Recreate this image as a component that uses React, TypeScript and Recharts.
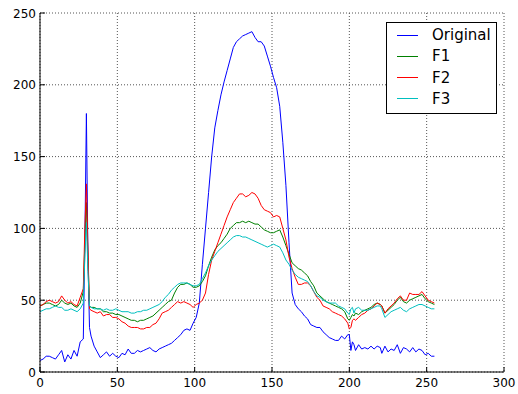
import { CartesianGrid, Line, LineChart, XAxis, YAxis } from "recharts";

// sample positions along x (denser around the spike at ~30 and the dip at ~200)
const X_VALUES = [
  0, 2, 4, 6, 8, 10, 12, 14, 16, 18, 20, 22, 24, 26, 28, 29, 30, 31, 32, 33, 35, 37, 39, 41, 43, 45, 47,
  49, 51, 53, 55, 57, 59, 61, 63, 65, 67, 69, 71, 73, 75, 77, 79, 81, 83, 85, 87, 89, 91, 93, 95, 97,
  99, 101, 103, 105, 107, 109, 111, 113, 115, 117, 119, 121, 123, 125, 127, 129, 131, 133, 135, 137,
  139, 141, 143, 145, 147, 149, 151, 153, 155, 157, 159, 161, 163, 165, 167, 169, 171, 173, 175, 177,
  179, 181, 183, 185, 187, 189, 191, 193, 195, 197, 199, 200, 201, 202, 203, 204, 206, 208, 210, 212,
  214, 216, 218, 220, 221, 223, 225, 227, 229, 231, 233, 235, 237, 239, 241, 243, 245, 247, 249, 251,
  253, 255,
];

const ORIGINAL = [
  8, 9, 11, 11, 10, 9, 12, 15, 7, 12, 9, 15, 11, 21, 23, 90, 180, 80, 31, 25, 18, 14, 10, 12, 14, 11, 13,
  11, 10, 13, 12, 16, 13, 13, 15, 14, 15, 16, 17, 15, 14, 16, 17, 18, 19, 20, 22, 24, 26, 29, 30, 29,
  34, 38, 48, 75, 100, 125, 150, 170, 182, 193, 202, 210, 218, 226, 230, 232, 234, 235, 236, 237,
  233, 230, 230, 227, 220, 213, 205, 198, 185, 160, 130, 90, 55, 47, 44, 42, 39, 37, 33, 32,
  31, 31, 28, 26, 24, 23, 22, 22, 25, 23, 26, 26, 15, 21, 19, 15, 19, 16, 17, 16,
  18, 16, 18, 17, 13, 18, 14, 16, 15, 19, 13, 17, 16, 14, 17, 14, 16, 15, 12, 13,
  11, 11,
];

const F1 = [
  46, 47, 48, 48, 47, 46, 47, 50, 48, 47, 48, 46, 45, 48, 56, 90, 118, 80, 46, 45, 45, 44, 44, 42, 42, 41, 41,
  40, 40, 39, 38, 37, 36, 36, 35, 36, 36, 37, 38, 39, 41, 43, 45, 47, 49, 50, 55, 59, 61, 61, 62, 61,
  59, 59, 60, 63, 67, 74, 80, 85, 88, 90, 93, 96, 100, 102, 104, 104, 105, 104, 105, 104,
  103, 103, 101, 99, 98, 97, 97, 98, 99, 94, 88, 82, 76, 74, 72, 71, 69, 67, 63, 60,
  55, 53, 51, 49, 48, 47, 46, 45, 44, 42, 37, 36, 38, 40, 39, 41, 40, 42, 43, 44,
  45, 47, 48, 47, 46, 41, 43, 45, 47, 50, 52, 49, 48, 50, 51, 52, 53, 54, 51, 49,
  48, 47,
];

const F2 = [
  46, 47, 49, 50, 49, 48, 49, 53, 50, 48, 49, 47, 46, 52, 58, 100, 131, 85, 44, 43, 42, 41, 42, 39, 40, 40, 38,
  38, 37, 35, 34, 32, 31, 31, 31, 30, 30, 31, 31, 33, 34, 37, 41, 42, 43, 45, 47, 49, 48, 49, 48, 47,
  45, 47, 48, 50, 55, 68, 78, 84, 90, 96, 102, 108, 113, 118, 121, 124, 124, 122, 123, 125,
  124, 121, 116, 113, 112, 111, 108, 109, 108, 100, 92, 80, 72, 66, 61, 61, 62, 62, 60, 56,
  52, 50, 46, 45, 44, 42, 41, 40, 39, 37, 34, 30, 31, 36, 37, 36, 38, 40, 41, 43,
  44, 46, 48, 47, 46, 41, 44, 46, 48, 51, 53, 50, 50, 55, 54, 54, 54, 56, 53, 50,
  49, 48,
];

const F3 = [
  42, 43, 44, 44, 45, 46, 45, 45, 43, 43, 44, 43, 42, 44, 48, 80, 104, 70, 46, 45, 44, 44, 44, 43, 44, 43, 43,
  44, 43, 42, 42, 42, 41, 41, 42, 42, 43, 43, 44, 45, 46, 47, 49, 52, 54, 57, 59, 61, 62, 62, 62, 61,
  60, 60, 61, 65, 69, 74, 78, 81, 84, 86, 88, 90, 92, 94, 95, 95, 94, 94, 93, 92,
  91, 90, 89, 88, 87, 88, 89, 88, 87, 83, 78, 75, 71, 68, 66, 65, 64, 63, 60, 56,
  53, 52, 50, 49, 48, 48, 48, 46, 45, 44, 41, 40, 44, 45, 41, 44, 45, 43, 43, 43,
  44, 45, 46, 46, 44, 38, 40, 42, 43, 44, 45, 43, 42, 44, 45, 46, 47, 47, 46, 45,
  44, 44,
];

const X_TICKS = [0, 50, 100, 150, 200, 250, 300];
const Y_TICKS = [0, 50, 100, 150, 200, 250];

const SERIES = [
  { key: "original", name: "Original", color: "#0000ff", values: ORIGINAL },
  { key: "f1", name: "F1", color: "#008000", values: F1 },
  { key: "f2", name: "F2", color: "#ff0000", values: F2 },
  { key: "f3", name: "F3", color: "#00bfbf", values: F3 },
];

const data = X_VALUES.map((x, i) => {
  const row: Record<string, number> = { x };
  SERIES.forEach((s) => (row[s.key] = s.values[i]));
  return row;
});

const FONT = "'DejaVu Sans', sans-serif";
const TICK_LEN = 5;
const GAP = 4;

function BottomTick({ x, y, payload }: any) {
  const axisY = y - GAP;
  return (
    <g>
      <line x1={x} x2={x} y1={axisY} y2={axisY - TICK_LEN} stroke="#000" />
      <text x={x} y={y} dy={11} textAnchor="middle" fontSize={12} fontFamily={FONT} fill="#000">
        {payload.value}
      </text>
    </g>
  );
}

function LeftTick({ x, y, payload }: any) {
  const axisX = x + GAP;
  return (
    <g>
      <line x1={axisX} x2={axisX + TICK_LEN} y1={y} y2={y} stroke="#000" />
      <text x={x} y={y} dy={4.5} textAnchor="end" fontSize={12} fontFamily={FONT} fill="#000">
        {payload.value}
      </text>
    </g>
  );
}

function TopTick({ x, y }: any) {
  return <line x1={x} x2={x} y1={y} y2={y + TICK_LEN} stroke="#000" />;
}

function RightTick({ x, y }: any) {
  return <line x1={x} x2={x - TICK_LEN} y1={y} y2={y} stroke="#000" />;
}

export default function App() {
  return (
    <div style={{ position: "absolute", left: 0, top: 0, width: 518, height: 394, background: "#fff" }}>
      <LineChart width={518} height={394} data={data} margin={{ top: 13, right: 14, bottom: 0, left: 0 }}>
        <CartesianGrid stroke="#555" strokeDasharray="1 2" />
        <XAxis
          dataKey="x"
          type="number"
          domain={[0, 300]}
          ticks={X_TICKS}
          height={22}
          tickSize={0}
          tickMargin={GAP}
          tickLine={false}
          axisLine={{ stroke: "#000" }}
          tick={<BottomTick />}
          interval={0}
        />
        <XAxis
          xAxisId="top"
          orientation="top"
          dataKey="x"
          type="number"
          domain={[0, 300]}
          ticks={X_TICKS}
          height={0}
          tickSize={0}
          tickMargin={0}
          tickLine={false}
          axisLine={{ stroke: "#000" }}
          tick={<TopTick />}
          interval={0}
        />
        <YAxis
          type="number"
          domain={[0, 250]}
          ticks={Y_TICKS}
          width={40}
          tickSize={0}
          tickMargin={GAP}
          tickLine={false}
          axisLine={{ stroke: "#000" }}
          tick={<LeftTick />}
          interval={0}
        />
        <YAxis
          yAxisId="right"
          orientation="right"
          type="number"
          domain={[0, 250]}
          ticks={Y_TICKS}
          width={0}
          tickSize={0}
          tickMargin={0}
          tickLine={false}
          axisLine={{ stroke: "#000" }}
          tick={<RightTick />}
          interval={0}
        />
        {/* invisible series so the top/right frame axes have data */}
        <Line
          xAxisId="top"
          yAxisId="right"
          dataKey="original"
          stroke="none"
          dot={false}
          isAnimationActive={false}
        />
        {SERIES.map((s) => (
          <Line
            key={s.key}
            dataKey={s.key}
            name={s.name}
            stroke={s.color}
            strokeWidth={1}
            dot={false}
            type="linear"
            isAnimationActive={false}
          />
        ))}
      </LineChart>

      <div
        style={{
          position: "absolute",
          left: 386,
          top: 22,
          width: 109,
          height: 90,
          border: "1px solid #000",
          background: "#fff",
          fontFamily: FONT,
          fontSize: 15,
          color: "#000",
        }}
      >
        {SERIES.map((s, i) => (
          <div
            key={s.key}
            style={{
              position: "absolute",
              left: 10,
              top: 3 + i * 21.3,
              height: 18,
              display: "flex",
              alignItems: "center",
              whiteSpace: "nowrap",
            }}
          >
            <span style={{ width: 21, height: 0, borderTop: `1px solid ${s.color}` }} />
            <span style={{ marginLeft: 14 }}>{s.name}</span>
          </div>
        ))}
      </div>
    </div>
  );
}
